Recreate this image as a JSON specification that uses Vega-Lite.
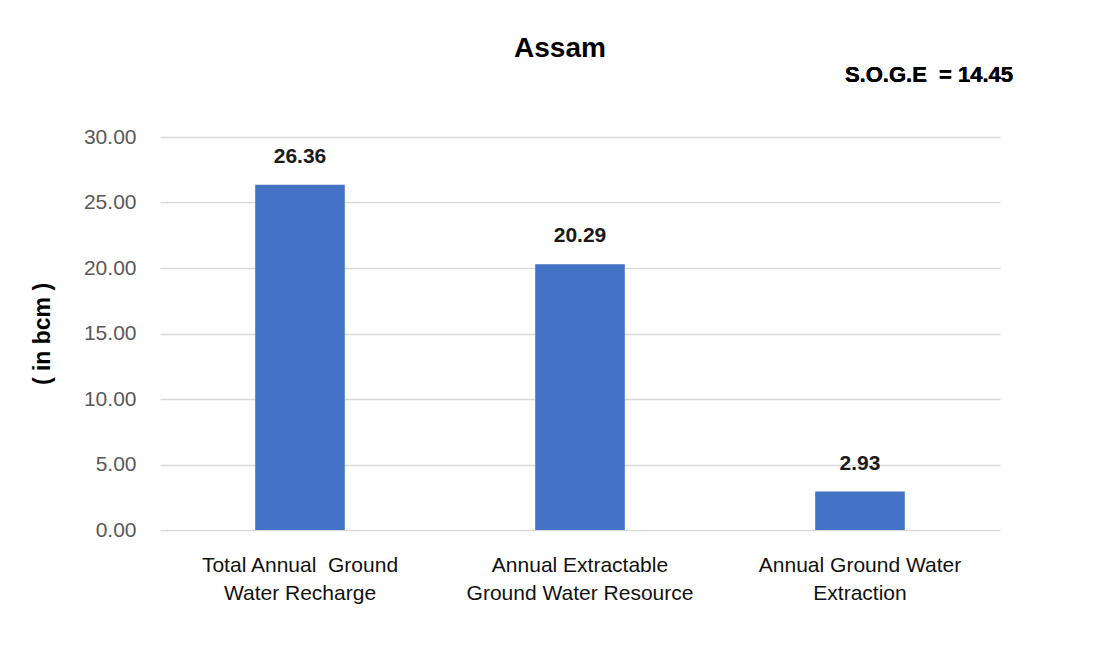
{
  "$schema": "https://vega.github.io/schema/vega-lite/v6.json",
  "autosize": {"type": "none"},
  "width": 840,
  "height": 393,
  "padding": {"left": 160, "top": 137, "right": 106, "bottom": 131},
  "background": "white",
  "title": {
    "text": "Assam",
    "font": "Liberation Sans",
    "fontSize": 28,
    "fontWeight": "bold",
    "color": "#000000",
    "anchor": "middle",
    "frame": "group",
    "baseline": "alphabetic",
    "dx": -20,
    "offset": -21
  },
  "data": {
    "values": [
      {"category": "Total Annual Ground Water Recharge", "value": 26.36},
      {"category": "Annual Extractable Ground Water Resource", "value": 20.29},
      {"category": "Annual Ground Water Extraction", "value": 2.93}
    ]
  },
  "encoding": {
    "x": {
      "field": "category",
      "type": "nominal",
      "sort": null,
      "scale": {"paddingInner": 0.68, "paddingOuter": 0.34},
      "axis": {
        "title": null,
        "labelAngle": 0,
        "domain": false,
        "ticks": false,
        "labelPadding": 24,
        "labelFont": "Liberation Sans",
        "labelFontSize": 21,
        "labelColor": "#111111",
        "labelLineHeight": 28,
        "labelLimit": 400,
        "labelExpr": "datum.value == 'Total Annual Ground Water Recharge' ? ['Total Annual\u00a0 Ground', 'Water Recharge'] : datum.value == 'Annual Extractable Ground Water Resource' ? ['Annual Extractable', 'Ground Water Resource'] : ['Annual Ground Water', 'Extraction']"
      }
    },
    "y": {
      "field": "value",
      "type": "quantitative",
      "scale": {"domain": [0, 30], "nice": false},
      "axis": {
        "title": "( in bcm )",
        "titleFont": "Liberation Sans",
        "titleFontSize": 23,
        "titleFontWeight": "bold",
        "titleColor": "#000000",
        "titlePadding": 29,
        "values": [0, 5, 10, 15, 20, 25, 30],
        "format": ".2f",
        "labelFont": "Liberation Sans",
        "labelFontSize": 21,
        "labelColor": "#595959",
        "labelPadding": 24,
        "ticks": false,
        "domain": false,
        "grid": true,
        "gridColor": "#d9d9d9",
        "gridWidth": 1.5
      }
    }
  },
  "layer": [
    {
      "mark": {"type": "bar", "color": "#4472C4"}
    },
    {
      "mark": {
        "type": "text",
        "baseline": "alphabetic",
        "dy": -22,
        "font": "Liberation Sans",
        "fontSize": 21,
        "fontWeight": "bold",
        "color": "#1a1a1a"
      },
      "encoding": {
        "text": {"field": "value", "type": "quantitative", "format": ".2f"}
      }
    },
    {
      "mark": {
        "type": "text",
        "baseline": "middle",
        "align": "center",
        "dx": 69,
        "font": "Liberation Sans",
        "fontSize": 22,
        "fontWeight": "bold",
        "color": "#000000",
        "clip": false
      },
      "encoding": {
        "x": {"datum": "Annual Ground Water Extraction"},
        "y": {"datum": 34.7},
        "text": {"value": "S.O.G.E\u00a0 = 14.45"}
      }
    }
  ],
  "config": {
    "view": {"stroke": null}
  }
}
